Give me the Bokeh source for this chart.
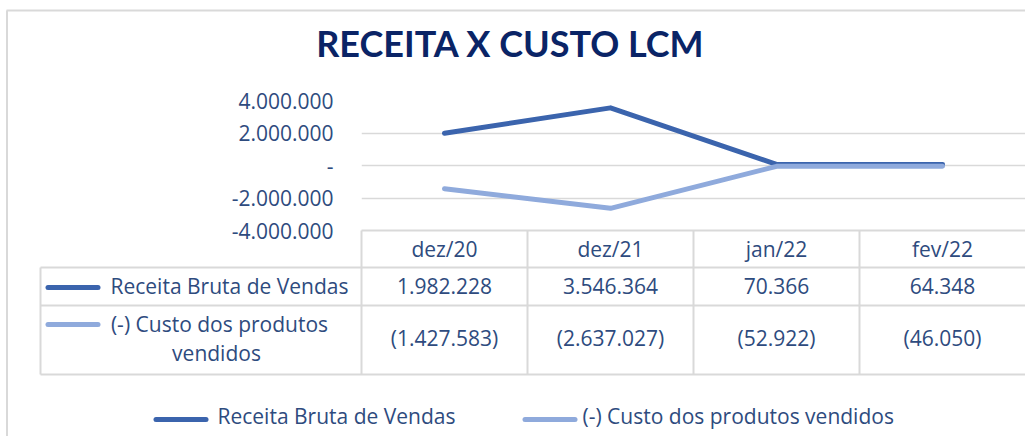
from bokeh.plotting import figure
from bokeh.models import Range1d, FixedTicker, ColumnDataSource
from bokeh.core.properties import value
from bokeh.embed import file_html
from bokeh.resources import INLINE

# ---------------- data ----------------
categories = ["dez/20", "dez/21", "jan/22", "fev/22"]
receita = [1982228, 3546364, 70366, 64348]
custo = [-1427583, -2637027, -52922, -46050]
series_names = ["Receita Bruta de Vendas", "(-) Custo dos produtos vendidos"]
table_row_labels = [["Receita Bruta de Vendas"], ["(-) Custo dos produtos", "vendidos"]]
y_ticks = [-4000000, -2000000, 0, 2000000, 4000000]
y_tick_labels = ["-4.000.000", "-2.000.000", "-", "2.000.000", "4.000.000"]
title_text = "RECEITA X CUSTO LCM"


def fmt(v):
    s = f"{abs(v):,}".replace(",", ".")
    return f"({s})" if v < 0 else s


# ---------------- style ----------------
COL_DARK = "#3B64AD"
COL_LIGHT = "#8FAADC"
TEXT = "#2E4B7E"
TITLE = "#0A2466"
GRID = "#D9D9D9"
FONT = "Open Sans"
FSN = 21
FS = f"{FSN}px"
TFONT = "Lato"
TFSN = 36
K = 0.41  # empirical baseline correction (fraction of font size)

W, H = 1025, 436
FL, FR, FT, FB = 361, 1025, 100, 230  # plot frame in page pixels
COLW = (FR - FL) / len(categories)


def sx(px):
    # page pixel -> synthetic categorical coordinate (layout helper)
    return (px - FL) / COLW


def by(baseline, size=FSN):
    return baseline - K * size


p = figure(width=W, height=H, x_range=categories, y_range=Range1d(-4000000, 4000000),
           output_backend="svg", toolbar_location=None,
           min_border_left=FL, min_border_right=W - FR,
           min_border_top=FT, min_border_bottom=H - FB)
p.outline_line_color = None
p.background_fill_color = "white"
p.border_fill_color = "white"

# pixel helper range (vertical) for table/legend layout
p.extra_y_ranges = {"px": Range1d(FB, FT)}

# y axis
p.yaxis.ticker = FixedTicker(ticks=y_ticks)
p.yaxis.major_label_overrides = dict(zip(y_ticks, y_tick_labels))
p.yaxis.axis_line_color = None
p.yaxis.major_tick_line_color = None
p.yaxis.minor_tick_line_color = None
p.yaxis.major_tick_out = 0
p.yaxis.major_tick_in = 0
p.yaxis.major_label_standoff = 28
p.yaxis.major_label_text_font = FONT
p.yaxis.major_label_text_font_size = FS
p.yaxis.major_label_text_color = TEXT

# x axis = table header
p.xaxis.axis_line_color = None
p.xaxis.major_tick_line_color = None
p.xaxis.minor_tick_line_color = None
p.xaxis.major_tick_out = 0
p.xaxis.major_tick_in = 0
p.xaxis.major_label_standoff = 4
p.xaxis.major_label_text_font = FONT
p.xaxis.major_label_text_font_size = FS
p.xaxis.major_label_text_color = TEXT

p.xgrid.visible = False
p.ygrid.ticker = FixedTicker(ticks=y_ticks)
p.ygrid.grid_line_color = GRID
p.ygrid.grid_line_width = 1.5

# series lines
src = ColumnDataSource(dict(cat=categories, receita=receita, custo=custo))
p.line("cat", "receita", source=src, line_width=5, line_color=COL_DARK,
       line_cap="round", line_join="round")
p.line("cat", "custo", source=src, line_width=5, line_color=COL_LIGHT,
       line_cap="round", line_join="round")

PX = dict(y_range_name="px", level="overlay")

# outer chart border
p.segment(x0=[sx(6), sx(6.5)], y0=[10, 10], x1=[sx(1025), sx(6.5)], y1=[10, 436],
          line_color=GRID, line_width=2, **PX)

# table grid
n = len(categories)
hx0 = [FL, 40, 40, 40]
hy = [230, 267, 305, 374]
hx1 = [FR] * 4
vx = [40] + [FL + i * COLW for i in range(n)]
vy0 = [267] + [230] * n
vy1 = [374] * (n + 1)
p.segment(x0=[sx(v) for v in hx0 + vx], y0=hy + vy0,
          x1=[sx(v) for v in hx1 + vx], y1=hy + vy1,
          line_color=GRID, line_width=2, **PX)

# legend keys (table + bottom legend)
p.segment(x0=[sx(47.5), sx(155.5)], y0=[287, 419], x1=[sx(97.5), sx(205.5)], y1=[287, 419],
          line_color=COL_DARK, line_width=5, line_cap="round", **PX)
p.segment(x0=[sx(47.5), sx(524.5)], y0=[324, 419], x1=[sx(97.5), sx(574.5)], y1=[324, 419],
          line_color=COL_LIGHT, line_width=5, line_cap="round", **PX)

TXT = dict(text_font=value(FONT), text_font_size=FS, text_color=TEXT,
           text_baseline="alphabetic")

# table row labels
p.text(x=[sx(229), sx(219), sx(216)], y=[by(294), by(332), by(361)],
       text=[table_row_labels[0][0], table_row_labels[1][0], table_row_labels[1][1]],
       text_align="center", **TXT, **PX)

# table values
p.text(x=categories, y=[by(294)] * n, text=[fmt(v) for v in receita],
       text_align="center", **TXT, **PX)
p.text(x=categories, y=[by(346)] * n, text=[fmt(v) for v in custo],
       text_align="center", **TXT, **PX)

# bottom legend labels
p.text(x=[sx(217), sx(582)], y=[by(424)] * 2, text=series_names, text_align="left", **TXT, **PX)

# title
p.text(x=[sx(510)], y=[by(57, TFSN)], text=[title_text], text_align="center",
       text_font=value(TFONT), text_font_style="bold", text_font_size=f"{TFSN}px",
       text_color=TITLE, text_baseline="alphabetic", **PX)

open("out.html", "w").write(file_html(p, INLINE))
